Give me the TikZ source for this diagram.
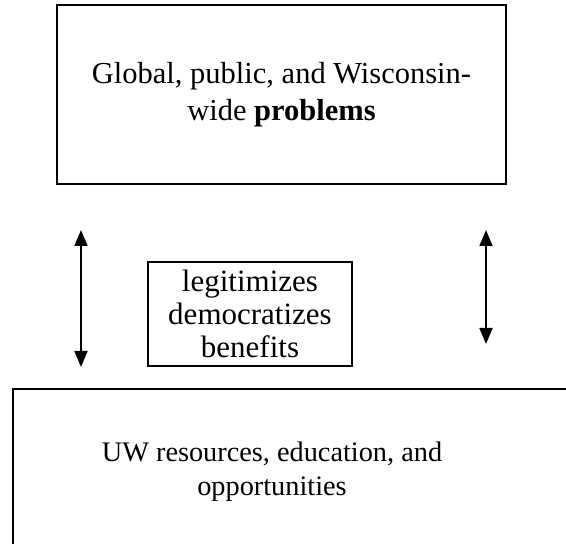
\documentclass[tikz,border=0pt]{standalone}
\usepackage{fontspec}
\setmainfont{Liberation Serif}
\usetikzlibrary{arrows.meta}
\tikzset{
  box/.style={draw,line width=1.6pt,align=center},
  twoway/.style={line width=1.8pt,{Triangle[length=16pt,width=13pt]}-{Triangle[length=16pt,width=13pt]}}
}
\begin{document}
\begin{tikzpicture}[x=1pt,y=1pt]
    \useasboundingbox (0,0) rectangle (566,544);

    \node[box,minimum width=449pt,minimum height=179pt,font=\fontsize{30.5}{37}\selectfont] (problems) at (281.5,449.5) {Global, public, and Wisconsin-\\wide \textbf{problems}};
    \node[box,minimum width=204pt,minimum height=104pt,inner sep=0pt,font=\fontsize{31}{33}\selectfont] (verbs) at (250,230) {legitimizes\\democratizes\\benefits};

    % open frame at the bottom, running off the page
    \begin{scope}
        \clip (0,0) rectangle (566,544);
        \draw[line width=1.6pt] (13,-10) |- (590,155);
    \end{scope}
    \node[align=center,font=\fontsize{28.3}{34}\selectfont] (resources) at (272,72) {UW resources, education, and\\opportunities};

    \coordinate (lefttop) at (81,314);
    \coordinate (leftbot) at (81,177);
    \coordinate (righttop) at (486,314);
    \coordinate (rightbot) at (486,200);
    \draw[twoway] (lefttop) -- (leftbot);
    \draw[twoway] (righttop) -- (rightbot);
\end{tikzpicture}
\end{document}
